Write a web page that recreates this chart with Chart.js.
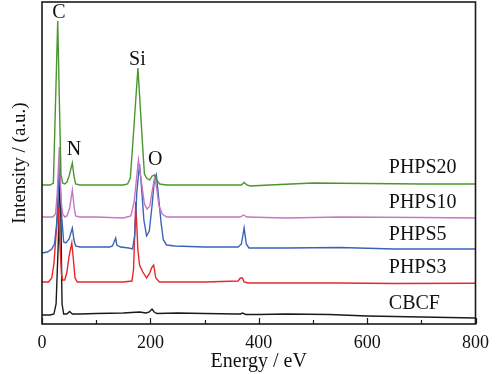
<!DOCTYPE html>
<html>
<head>
<meta charset="utf-8">
<script src="https://cdn.jsdelivr.net/npm/chart.js@4.4.1/dist/chart.umd.min.js"></script>
<style>
  html, body { margin: 0; padding: 0; background: #fff; }
  canvas { display: block; }
</style>
</head>
<body>
<canvas id="c" width="497" height="374"></canvas>
<script>
// spectra, stacked with an offset (intensity in a.u.)
const phps20E = [0, 15, 21, 29, 32, 35, 38, 42, 46, 50, 56, 59, 62, 70, 100, 150, 158, 163, 168, 177, 185, 189, 193, 199, 203, 208, 212, 217, 230, 300, 362, 368, 373, 378, 384, 420, 500, 600, 700, 800];
const phps20I = [139, 139, 141, 303, 224, 150, 141, 140, 142, 148, 161, 148, 140, 139, 139, 139, 140, 146, 184, 256, 184, 150, 146, 144, 148, 149, 144, 140, 139, 139, 139, 139, 141.5, 139, 138, 139, 141, 140.5, 140, 140];

const phps10E = [0, 20, 25, 28, 32, 35, 38, 42, 46, 51, 56, 59, 62, 70, 100, 150, 164, 170, 178, 184, 189, 194, 199, 203, 208, 212, 216, 222, 230, 300, 366, 372, 378, 450, 550, 700, 800];
const phps10I = [107, 107, 110, 130, 177, 125, 110, 107, 108, 116, 134, 118, 108, 107, 107, 106, 108, 122, 164, 140, 120, 115, 118, 132, 147, 134, 118, 110, 107, 107, 107, 109, 107, 106, 107, 106.5, 106];

const phps5E = [0, 10, 18, 23, 27, 32, 36, 40, 44, 50, 56, 59, 62, 70, 100, 125, 130, 136, 138, 145, 160, 167, 171, 175, 180, 184, 188, 193, 198, 203, 207, 211, 216, 220, 224, 230, 245, 300, 362, 368, 373, 377, 382, 450, 550, 650, 800];
const phps5I = [71, 72, 75, 80, 100, 158, 110, 82, 81, 85, 96, 84, 78, 77, 77, 77, 78, 86, 79, 77, 76, 75, 88, 132, 160, 134, 104, 88, 93, 118, 142, 149, 122, 100, 84, 79, 78, 77, 77, 80, 96, 80, 76, 76, 76.5, 75, 75];

const phps3E = [0, 12, 18, 22, 26, 30, 33, 36, 38, 42, 46, 50, 55, 58, 61, 65, 100, 150, 166, 169, 173, 177, 180, 186, 193, 199, 202, 206, 210, 217, 230, 300, 362, 366, 370, 373, 380, 450, 550, 650, 800];
const phps3I = [42, 42, 46, 60, 90, 116, 80, 50, 44, 44, 52, 68, 81, 64, 46, 42, 42, 42, 43, 55, 122, 74, 59, 52, 46, 51, 56, 59, 46, 42, 42, 42, 43, 46, 46, 42, 41, 41, 41, 40.5, 40.7];

const cbcfE = [0, 15, 22, 26, 30, 33, 35, 37, 40, 46, 51, 56, 70, 100, 150, 180, 192, 198, 203, 207, 212, 250, 300, 360, 366, 370, 376, 400, 450, 530, 600, 700, 800];
const cbcfI = [9, 9, 10, 20, 80, 160, 100, 20, 10, 10, 12.5, 10, 10, 10.5, 11, 12, 11, 12, 15, 12, 10.5, 11, 10.5, 10, 10, 11, 9.5, 9.5, 10, 9.5, 8, 7, 6];

const seriesNames = ['PHPS20', 'PHPS10', 'PHPS5', 'PHPS3', 'CBCF'];
const seriesColors = ['#4a962e', '#c477c4', '#3a63b8', '#e8262a', '#1a1a1a'];
const nameLabelY = [156, 121, 89, 56, 20];
const nameLabelE = 640;

const peakLabels = ['C', 'N', 'Si', 'O'];
const peakLabelE = [31, 59, 176, 209];
const peakLabelY = [311, 174, 264, 164];

const xTicks = [0, 200, 400, 600, 800];

const FONT = "'Liberation Serif', 'Times New Roman', serif";

const toPts = (es, is) => es.map((e, i) => ({ x: e, y: is[i] }));
const allSeries = [
  toPts(phps20E, phps20I),
  toPts(phps10E, phps10I),
  toPts(phps5E, phps5I),
  toPts(phps3E, phps3I),
  toPts(cbcfE, cbcfI),
];

// frame, inward ticks and text labels
const decor = {
  id: 'decor',
  afterDraw(chart) {
    const { ctx, chartArea: a, scales: { x, y } } = chart;
    ctx.save();
    ctx.strokeStyle = '#1a1a1a';
    ctx.lineWidth = 1.6;
    ctx.strokeRect(a.left, a.top, a.right - a.left, a.bottom - a.top);

    ctx.lineWidth = 1.2;
    ctx.beginPath();
    for (let v = 0; v <= 800; v += 100) {
      const px = Math.round(x.getPixelForValue(v)) + 0.5;
      const len = xTicks.includes(v) ? 6 : 4;
      ctx.moveTo(px, a.bottom);
      ctx.lineTo(px, a.bottom - len);
    }
    ctx.stroke();

    ctx.fillStyle = '#111';
    ctx.font = `20px ${FONT}`;
    ctx.textBaseline = 'middle';
    ctx.textAlign = 'left';
    seriesNames.forEach((n, i) => {
      ctx.fillText(n, x.getPixelForValue(nameLabelE), y.getPixelForValue(nameLabelY[i]));
    });
    ctx.textAlign = 'center';
    peakLabels.forEach((n, i) => {
      ctx.fillText(n, x.getPixelForValue(peakLabelE[i]), y.getPixelForValue(peakLabelY[i]));
    });
    ctx.restore();
  },
};

new Chart(document.getElementById('c'), {
  type: 'line',
  data: {
    datasets: allSeries.map((pts, i) => ({
      label: seriesNames[i],
      data: pts,
      borderColor: seriesColors[i],
      borderWidth: 1.4,
      pointRadius: 0,
      tension: 0,
      fill: false,
    })),
  },
  options: {
    responsive: false,
    animation: false,
    devicePixelRatio: 1,
    layout: { padding: { top: 2, right: 20, left: 0, bottom: 0 } },
    plugins: {
      legend: { display: false },
      tooltip: { enabled: false },
    },
    scales: {
      x: {
        type: 'linear',
        min: 0,
        max: 800,
        grid: { display: false, drawTicks: false },
        border: { display: false },
        ticks: {
          stepSize: 100,
          autoSkip: false,
          maxRotation: 0,
          padding: 8,
          color: '#111',
          font: { size: 18, family: FONT },
          callback: (v) => (xTicks.includes(v) ? String(v) : ''),
        },
        title: {
          display: true,
          text: 'Energy / eV',
          color: '#111',
          padding: { top: 0, bottom: 0 },
          font: { size: 20, family: FONT },
        },
        afterFit: (s) => { s.height = 50; },
      },
      y: {
        min: 0,
        max: 322,
        grid: { display: false, drawTicks: false },
        border: { display: false },
        ticks: { display: false },
        title: {
          display: true,
          text: 'Intensity / (a.u.)',
          color: '#111',
          padding: { top: 9, bottom: 0 },
          font: { size: 19, family: FONT },
        },
        afterFit: (s) => { s.width = 42; },
      },
    },
  },
  plugins: [decor],
});
</script>
</body>
</html>
